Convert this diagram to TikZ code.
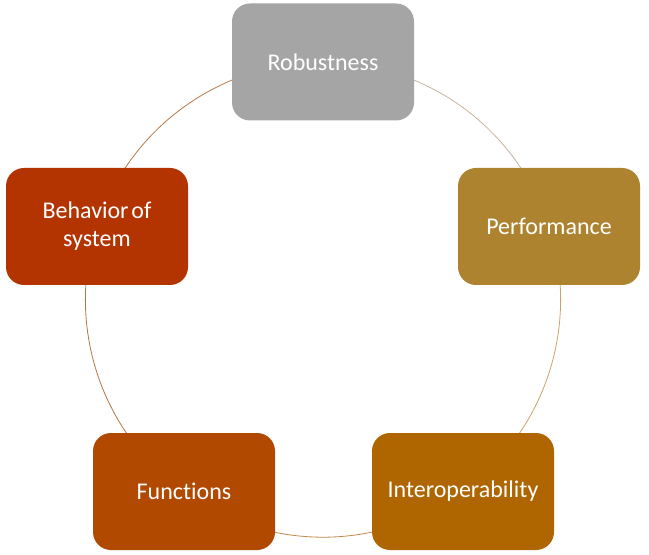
\documentclass[tikz,border=0pt]{standalone}
\usepackage{fontspec}
\setmainfont{Carlito}[Ligatures=NoCommon]
\usetikzlibrary{calc}
\definecolor{cRob}{HTML}{A5A5A5}
\definecolor{cPerf}{HTML}{AD8330}
\definecolor{cInt}{HTML}{AF6600}
\definecolor{cFun}{HTML}{B14900}
\definecolor{cBeh}{HTML}{B33400}
\definecolor{aA}{HTML}{C9B49E}
\definecolor{aB}{HTML}{C9A468}
\definecolor{aC}{HTML}{C08A48}
\definecolor{aD}{HTML}{B87440}
\definecolor{aE}{HTML}{B87848}
\begin{document}
\begin{tikzpicture}[x=0.75pt,y=-0.75pt]
\tikzset{
  box/.style={rounded corners=13.5pt, minimum width=136.5pt, minimum height=87.75pt,
    text=white, font=\fontsize{18}{21}\selectfont, align=center, inner sep=0pt},
  ring/.style={line width=0.6pt}
}
\useasboundingbox (0,0) rectangle (649,555);
\coordinate (c) at (323,299.6);
\draw[ring,aA] ($(c)+(90:178.2pt)$) arc[start angle=90, end angle=18, radius=178.2pt];
\draw[ring,aB] ($(c)+(18:178.2pt)$) arc[start angle=18, end angle=-54, radius=178.2pt];
\draw[ring,aC] ($(c)+(-54:178.2pt)$) arc[start angle=-54, end angle=-126, radius=178.2pt];
\draw[ring,aD] ($(c)+(-126:178.2pt)$) arc[start angle=-126, end angle=-198, radius=178.2pt];
\draw[ring,aE] ($(c)+(162:178.2pt)$) arc[start angle=162, end angle=90, radius=178.2pt];
\node[box, fill=cRob] (rob) at (323,62) {Robustness};
\node[box, fill=cPerf] (perf) at (549,226.5) {Performance};
\node[box, fill=cInt] (int) at (463,491.5) {Interoperability};
\node[box, fill=cFun] (fun) at (184,491.5) {Functions};
\node[box, fill=cBeh] (beh) at (97,226.5) {Behavior\hspace{0.12em}of\\system};
\end{tikzpicture}
\end{document}
